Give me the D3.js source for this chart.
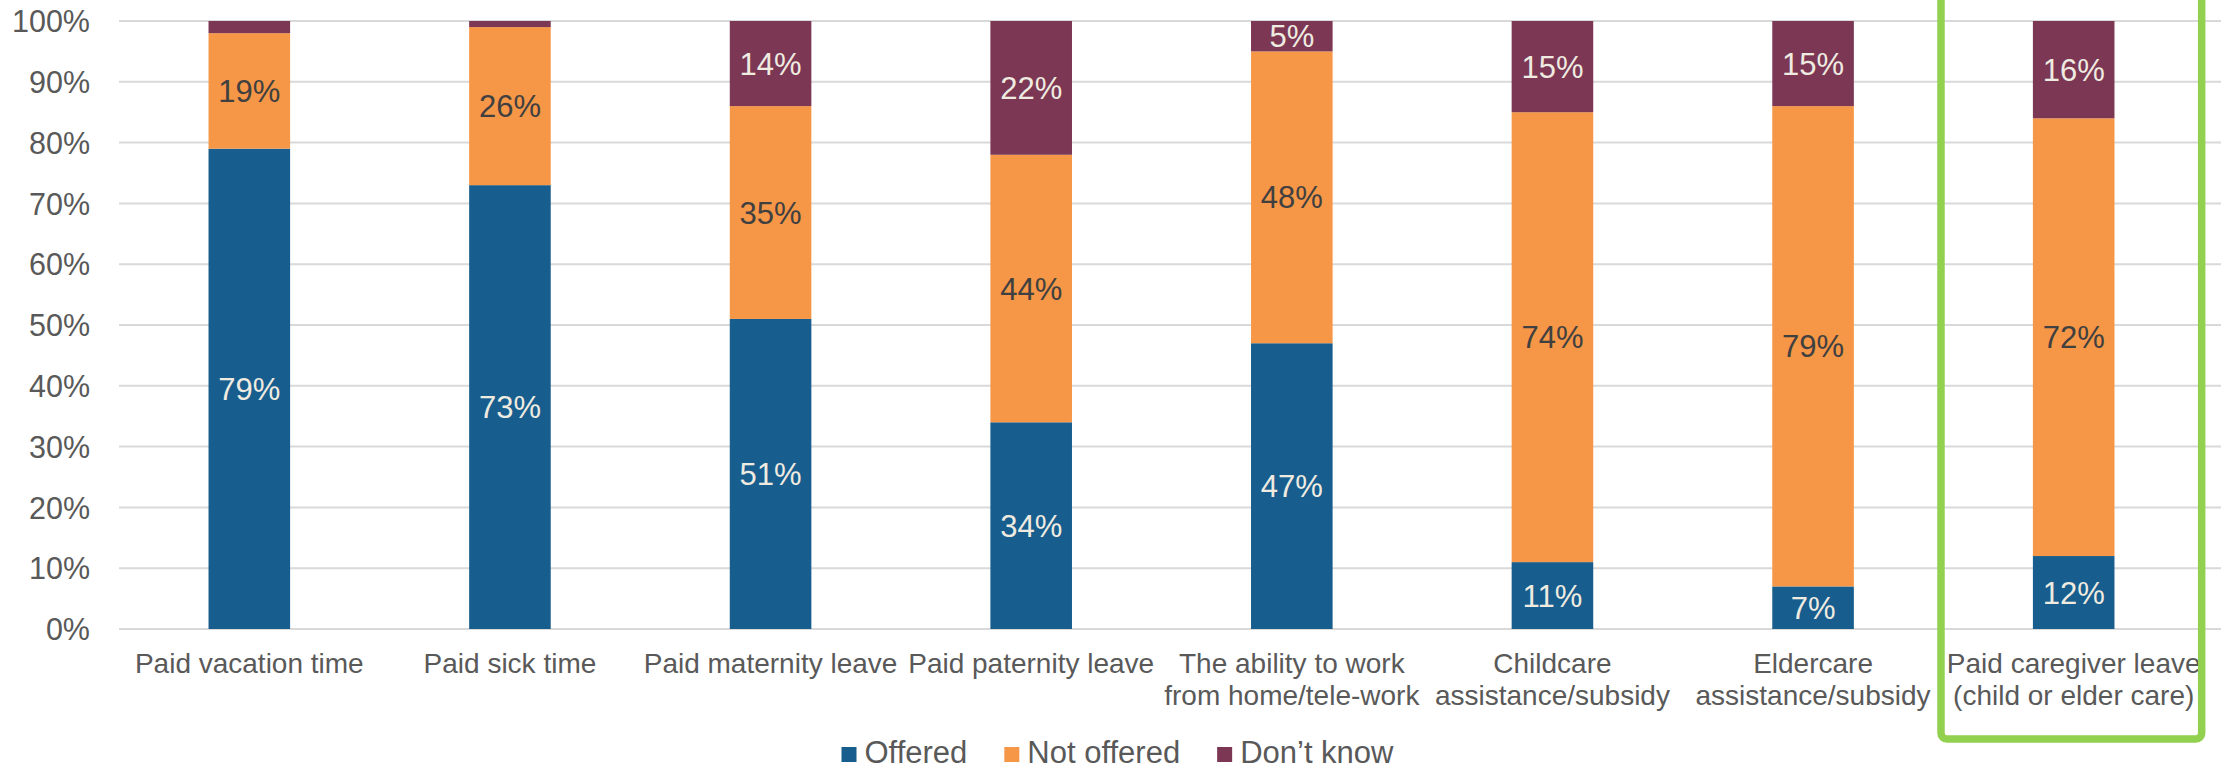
<!DOCTYPE html>
<html>
<head>
<meta charset="utf-8">
<script src="https://cdn.jsdelivr.net/npm/d3@7"></script>
<style>
  html, body { margin: 0; padding: 0; background: #ffffff; }
  svg { display: block; font-family: "Liberation Sans", Arial, sans-serif; }
</style>
</head>
<body>
<svg id="chart" width="2221" height="769"></svg>
<script>
// Workplace benefits: share of respondents whose employer offers each benefit
const categories = [
  "Paid vacation time",
  "Paid sick time",
  "Paid maternity leave",
  "Paid paternity leave",
  "The ability to work\nfrom home/tele-work",
  "Childcare\nassistance/subsidy",
  "Eldercare\nassistance/subsidy",
  "Paid caregiver leave\n(child or elder care)"
];
const offered    = [79, 73, 51, 34, 47, 11, 7, 12];
const notOffered = [19, 26, 35, 44, 48, 74, 79, 72];
const dontKnow   = [2, 1, 14, 22, 5, 15, 15, 16];
const seriesNames = ["Offered", "Not offered", "Don\u2019t know"];
const tickValues = [0, 10, 20, 30, 40, 50, 60, 70, 80, 90, 100];
const highlighted = "Paid caregiver leave\n(child or elder care)";

const colors = ["#175D8D", "#F69647", "#7B3753"];
const labelColors = ["#EFEBE1", "#404040", "#EFEBE1"];

const svg = d3.select("#chart");
const plot = { left: 119, right: 2204, top: 21, bottom: 629, gridEnd: 2221 };

const x = d3.scaleBand()
  .domain(categories)
  .range([plot.left, plot.right])
  .paddingInner(0.687)
  .paddingOuter(0.3435);

const y = d3.scaleLinear()
  .domain([0, 100])
  .range([plot.bottom, plot.top]);

// Gridlines
svg.append("g")
  .selectAll("line")
  .data(tickValues)
  .join("line")
  .attr("x1", plot.left)
  .attr("x2", plot.gridEnd)
  .attr("y1", d => y(d))
  .attr("y2", d => y(d))
  .attr("stroke", "#D9D9D9")
  .attr("stroke-width", 2);

// Y axis labels
const yAxis = d3.axisLeft(y)
  .tickValues(tickValues)
  .tickFormat(d => d + "%")
  .tickSize(0)
  .tickPadding(0);
const yg = svg.append("g").attr("transform", "translate(90,0)").call(yAxis);
yg.select(".domain").remove();
yg.selectAll("text")
  .attr("font-size", 30.5)
  .attr("fill", "#595959")
  .attr("font-family", "Liberation Sans, Arial, sans-serif")
  .attr("dy", "0.35em");

// Stack the three series
const rows = categories.map((c, i) => ({
  category: c,
  Offered: offered[i],
  "Not offered": notOffered[i],
  "Don\u2019t know": dontKnow[i]
}));
const stacked = d3.stack().keys(seriesNames)(rows);

svg.append("clipPath").attr("id", "plotClip")
  .append("rect")
  .attr("x", 0).attr("y", plot.top)
  .attr("width", 2221).attr("height", plot.bottom - plot.top);

const barsG = svg.append("g").attr("clip-path", "url(#plotClip)");
stacked.forEach((layer, si) => {
  barsG.append("g")
    .selectAll("rect")
    .data(layer)
    .join("rect")
    .attr("x", d => x(d.data.category))
    .attr("width", x.bandwidth())
    .attr("y", d => y(Math.min(d[1], 100)))
    .attr("height", d => y(d[0]) - y(Math.min(d[1], 100)))
    .attr("fill", colors[si]);
});

// Value labels centred in each visible segment
const labelsG = svg.append("g");
stacked.forEach((layer, si) => {
  labelsG.append("g")
    .selectAll("text")
    .data(layer.filter(d => (d[1] - d[0]) >= 3))
    .join("text")
    .attr("x", d => x(d.data.category) + x.bandwidth() / 2)
    .attr("y", d => y((d[0] + Math.min(d[1], 100)) / 2))
    .attr("dy", "0.36em")
    .attr("text-anchor", "middle")
    .attr("font-size", 31)
    .attr("fill", labelColors[si])
    .text(d => (d[1] - d[0]) + "%");
});

// Category labels
const catG = svg.append("g");
categories.forEach(c => {
  const lines = c.split("\n");
  const t = catG.append("text")
    .attr("text-anchor", "middle")
    .attr("font-size", 28)
    .attr("fill", "#595959");
  lines.forEach((ln, li) => {
    t.append("tspan")
      .attr("x", x(c) + x.bandwidth() / 2)
      .attr("y", 673 + li * 32)
      .text(ln);
  });
});

// Highlight frame around the caregiver-leave column
const hx = x(highlighted) + x.bandwidth() / 2;
svg.append("rect")
  .attr("x", hx - 132.7)
  .attr("y", -20)
  .attr("width", 260.7)
  .attr("height", 759)
  .attr("rx", 6)
  .attr("fill", "none")
  .attr("stroke", "#92D050")
  .attr("stroke-width", 7.5);

// Legend
const legend = svg.append("g");
const sw = 15, gapText = 8, gapItem = 37, legendBaseline = 763;
let items = [];
seriesNames.forEach((name, i) => {
  const g = legend.append("g");
  g.append("rect")
    .attr("y", 747).attr("width", sw).attr("height", sw)
    .attr("fill", colors[i]);
  const t = g.append("text")
    .attr("x", sw + gapText)
    .attr("y", legendBaseline)
    .attr("font-size", 31)
    .attr("fill", "#595959")
    .text(name);
  items.push({ g, w: sw + gapText + t.node().getComputedTextLength() });
});
const totalW = d3.sum(items, d => d.w) + gapItem * (items.length - 1);
let cx = 1117.5 - totalW / 2;
items.forEach(it => {
  it.g.attr("transform", `translate(${cx},0)`);
  cx += it.w + gapItem;
});
</script>
</body>
</html>
